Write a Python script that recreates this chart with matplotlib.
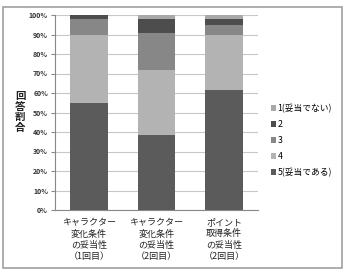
import matplotlib
matplotlib.use("Agg")
import matplotlib.pyplot as plt
from matplotlib.patches import Rectangle

plt.rcParams['font.family'] = ['Noto Sans CJK JP', 'DejaVu Sans']

categories = ["キャラクター\n変化条件\nの妥当性\n（1回目）",
              "キャラクター\n変化条件\nの妥当性\n（2回目）",
              "ポイント\n取得条件\nの妥当性\n（2回目）"]
series_names = ["5(妥当である)", "4", "3", "2", "1(妥当でない)"]
s5 = [55, 38.5, 61.5]
s4 = [35, 33.5, 28.2]
s3 = [8, 19, 5.3]
s2 = [2, 7, 3]
s1 = [0, 2, 2]
values = [s5, s4, s3, s2, s1]
colors = ["#5b5b5b", "#b3b3b3", "#878787", "#4d4d4d", "#a8a8a8"]
yticks = [0, 10, 20, 30, 40, 50, 60, 70, 80, 90, 100]
ylabel = "回\n答\n割\n合"

fig = plt.figure(figsize=(3.46, 2.69), dpi=100)
ax = fig.add_axes([55/346, 1-210/269, 203/346, 195/269])

x = range(len(categories))
bottom = [0]*len(categories)
handles = []
for name, vals, c in zip(series_names, values, colors):
    b = ax.bar(x, vals, 0.56, bottom=bottom, color=c, label=name, linewidth=0)
    handles.append(b)
    bottom = [bb+v for bb, v in zip(bottom, vals)]

ax.set_ylim(0, 100)
ax.set_xlim(-0.5, len(categories)-0.5)
ax.set_yticks(yticks)
ax.set_yticklabels([f"{t}%" for t in yticks], fontsize=5, fontweight='bold', color='#333333')
ax.set_xticks(list(x))
ax.set_xticklabels(categories, fontsize=6.5, linespacing=1.3, color='#222222')
ax.tick_params(axis='x', length=0, pad=6)
ax.tick_params(axis='y', length=3, color='#888888', width=0.8, pad=2)
ax.yaxis.grid(True, color='#c8c8c8', linewidth=0.8)
ax.set_axisbelow(True)
for s in ['top', 'right']:
    ax.spines[s].set_visible(False)
ax.spines['left'].set_color('#888888')
ax.spines['bottom'].set_color('#888888')

fig.text(20/346, 1-112/269, ylabel, fontsize=7.5, ha='center', va='center',
         linespacing=1.05, color='#222222', fontweight='bold')

leg = fig.legend(handles[::-1], series_names[::-1], loc='upper left',
                 bbox_to_anchor=(263/346, 1-96/269), frameon=False,
                 fontsize=6.3, handlelength=0.55, handleheight=0.55,
                 handletextpad=0.2, labelspacing=0.8)

fig.patches.append(Rectangle((3/346, 1/269), 339/346, 261/269, transform=fig.transFigure,
                             fill=False, edgecolor='#a0a0a0', linewidth=1.2))

fig.savefig("out.png", dpi=100)
